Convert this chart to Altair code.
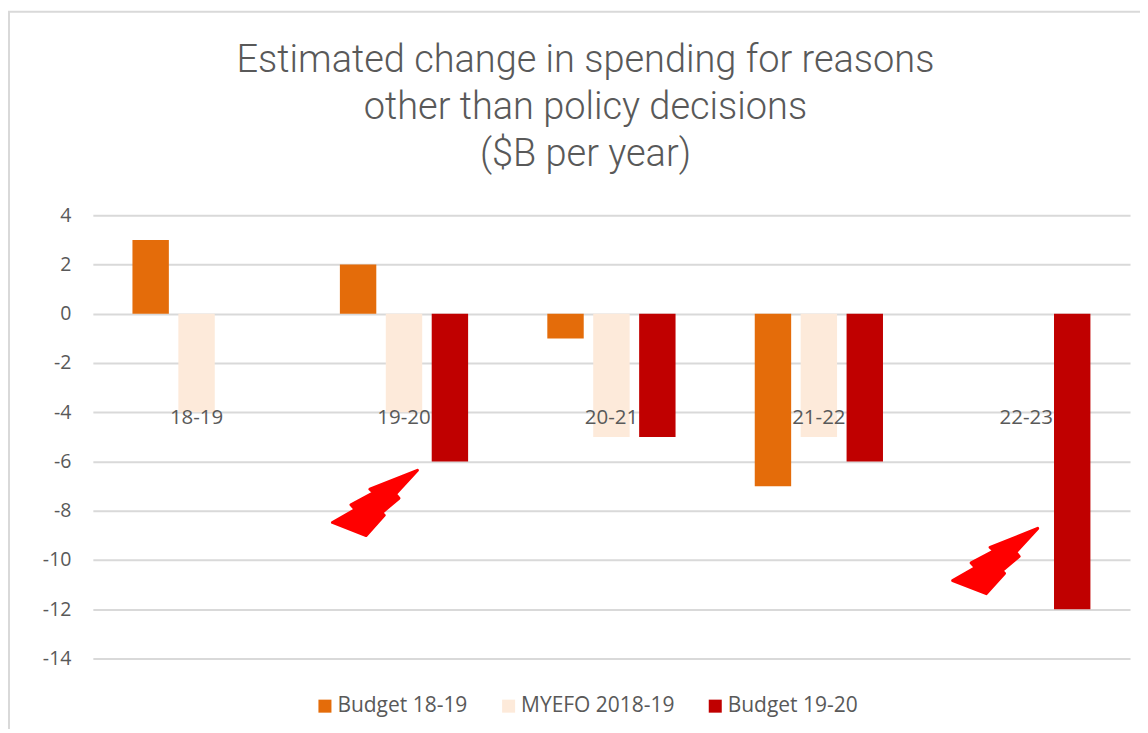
import altair as alt
import pandas as pd

categories = ["18-19", "19-20", "20-21", "21-22", "22-23"]
series_names = ["Budget 18-19", "MYEFO 2018-19", "Budget 19-20"]
budget_1819 = [3, 2, -1, -7, None]
myefo_1819 = [-4, -4, -5, -5, None]
budget_1920 = [None, -6, -5, -6, -12]
colors = ["#E46C0A", "#FDEADA", "#C00000"]
title_lines = ["Estimated change in spending for reasons", "other than policy decisions", "($B per year)"]
y_ticks = [-14, -12, -10, -8, -6, -4, -2, 0, 2, 4]
bolt_pos = [1.362, 4.352]
bolt_val = [-7.69, -10.05]
BOLT = "M1,-0.78L0.48,-0.215L0.56,-0.115L0.15,0.23L0.21,0.29L-0.22,0.77L-1.02,0.46L-0.48,0.15L-0.58,0.04L-0.04,-0.25L-0.13,-0.33Z"

rows = []
for name, vals in zip(series_names, [budget_1819, myefo_1819, budget_1920]):
    for c, v in zip(categories, vals):
        if v is not None:
            rows.append({"cat": c, "series": name, "value": v})
df = pd.DataFrame(rows)
bolts = pd.DataFrame({"x": bolt_pos, "y": bolt_val})

yscale = alt.Scale(domain=[-14, 4], nice=False)
yaxis = alt.Axis(values=y_ticks, domain=False, ticks=False, grid=True, gridColor="#d9d9d9",
                 gridWidth=2, labelFontSize=19.5, labelColor="#595959", labelFont="Open Sans",
                 labelPadding=22, labelExpr="'' + datum.value")
W, H = 1039, 444

bars = alt.Chart(df).mark_bar().encode(
    x=alt.X("cat:N", sort=categories, title=None,
            scale=alt.Scale(domain=categories, paddingInner=0.336, paddingOuter=0.168),
            axis=alt.Axis(domain=False, ticks=False, grid=False, labelAngle=0, labelFontSize=20.5,
                          labelColor="#595959", labelFont="Open Sans", labelPadding=-251, zindex=1)),
    xOffset=alt.XOffset("series:N", sort=series_names,
                        scale=alt.Scale(domain=series_names, paddingInner=0.207, paddingOuter=0.1035)),
    y=alt.Y("value:Q", title=None, scale=yscale, axis=yaxis),
    color=alt.Color("series:N", sort=series_names,
                    scale=alt.Scale(domain=series_names, range=colors),
                    legend=alt.Legend(title=None, orient="none", direction="horizontal",
                                      legendX=222, legendY=481, symbolType="square", symbolSize=170,
                                      symbolStrokeWidth=0, labelFontSize=21, labelColor="#595959",
                                      labelFont="Open Sans", columnPadding=30, symbolOpacity=1, labelOffset=2)),
)

bolt_marks = alt.Chart(bolts).mark_point(
    shape=BOLT, filled=True, fill="#FF0000", stroke="#FF0000", strokeWidth=3,
    strokeJoin="round", opacity=1, size=7100,
).encode(
    x=alt.X("x:Q", scale=alt.Scale(domain=[0, 5], nice=False), axis=None),
    y=alt.Y("y:Q", title=None, scale=yscale, axis=yaxis),
)

frame_left = alt.Chart(pd.DataFrame({"a": [0]})).mark_rule(color="#d9d9d9", strokeWidth=2).encode(
    x=alt.value(-84), y=alt.value(-204), y2=alt.value(518))
frame_top = alt.Chart(pd.DataFrame({"a": [0]})).mark_rule(color="#d9d9d9", strokeWidth=2).encode(
    x=alt.value(-85), x2=alt.value(1063), y=alt.value(-204))

chart = alt.layer(bars, bolt_marks, frame_left, frame_top).resolve_scale(x="independent", y="shared").properties(
    width=W, height=H,
    title=alt.TitleParams(title_lines, anchor="middle", font="Roboto", fontWeight=300, fontSize=38,
                          color="#595959", lineHeight=47.5, dx=-26, offset=-164),
    padding={"left": 85, "top": 207, "right": 10, "bottom": 70},
    autosize=alt.AutoSizeParams(type="none"),
).configure_view(stroke=None)

chart.save("out.html", embed_options={"renderer": "svg", "actions": False})
